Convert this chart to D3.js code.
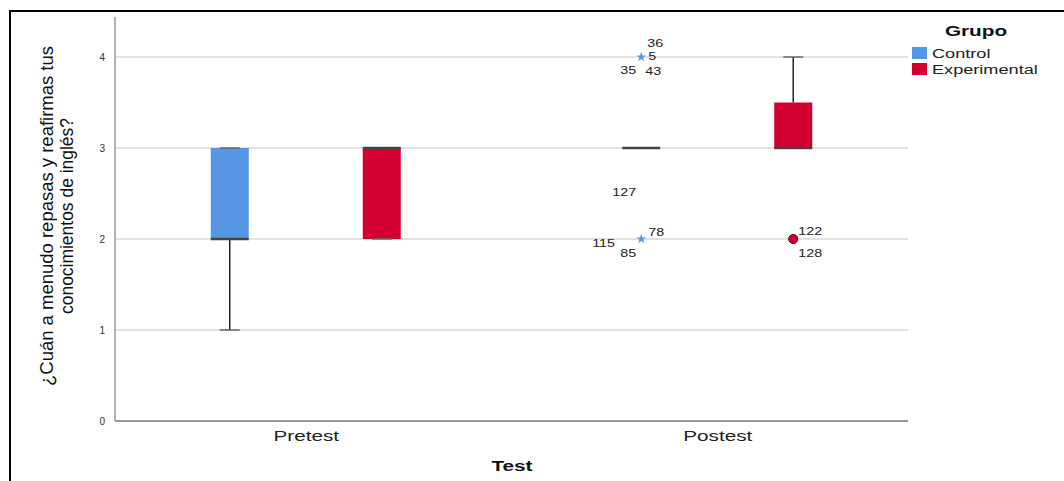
<!DOCTYPE html>
<html><head><meta charset="utf-8">
<script src="https://cdn.jsdelivr.net/npm/d3@7"></script>
<style>body{margin:0;background:#fff}svg{display:block}text{font-family:"Liberation Sans",Arial,sans-serif}</style>
</head><body>
<svg id="c" width="1064" height="481"></svg>
<script>
const tests = ["Pretest", "Postest"];
const groups = ["Control", "Experimental"];
const colors = ["#5597e4", "#d50032"];
const yTicks = [0, 1, 2, 3, 4];
// box stats per test x group: [whiskerLow, q1, median, q3, whiskerHigh]
const boxPretestControl = [1, 2, 2, 3, 3];
const boxPretestExperimental = [2, 2, 3, 3, 3];
const boxPostestControl = [3, 3, 3, 3, 3];
const boxPostestExperimental = [3, 3, 3, 3.5, 4];
// outliers
const outlierTests = ["Postest", "Postest", "Postest"];
const outlierGroups = ["Control", "Control", "Experimental"];
const outlierValues = [4, 2, 2];
const outlierShapes = ["star", "star", "circle"];
const outlierIds = [["36", "5", "35", "43"], ["127", "78", "115", "85"], ["122", "128"]];

const svg = d3.select("#c");
const x0 = 115, x1 = 908, yTop = 17, yBot = 421;
const y = d3.scaleLinear().domain([0, 4]).range([421, 57]);
const xT = d3.scalePoint().domain(tests).range([x0, x1]).padding(0.4636);
const xG = d3.scalePoint().domain(groups).range([-76, 76]);
const bw = 38, cap = 20;
const stretch = 1.48; // horizontal glyph stretch seen in reference text

function widen(sel, k) {
  sel.each(function () {
    const w = this.getComputedTextLength();
    d3.select(this).attr("textLength", w * k).attr("lengthAdjust", "spacingAndGlyphs");
  });
}

// frame
svg.append("line").attr("x1", 10).attr("x2", 1064).attr("y1", 11).attr("y2", 11).attr("stroke", "#000").attr("stroke-width", 2);
svg.append("line").attr("x1", 10).attr("x2", 10).attr("y1", 10).attr("y2", 481).attr("stroke", "#000").attr("stroke-width", 2);

// grid
svg.append("g").selectAll("line").data(yTicks.filter(d => d > 0)).join("line")
  .attr("x1", x0).attr("x2", x1).attr("y1", d => y(d)).attr("y2", d => y(d))
  .attr("stroke", "#e2e2e2").attr("stroke-width", 2);

// axes
const ya = svg.append("g").attr("transform", `translate(${x0},0)`)
  .call(d3.axisLeft(y).tickValues(yTicks).tickSize(0).tickPadding(10).tickFormat(d3.format("d")));
ya.select(".domain").remove();
ya.selectAll("text").attr("font-size", 10).attr("fill", "#333").attr("font-family", "Liberation Sans, Arial");
svg.append("line").attr("x1", x0).attr("x2", x0).attr("y1", yTop).attr("y2", yBot).attr("stroke", "#999").attr("stroke-width", 1.5);

const xa = svg.append("g").attr("transform", `translate(0,${yBot})`)
  .call(d3.axisBottom(xT).tickSize(0).tickPadding(10));
xa.select(".domain").remove();
xa.selectAll("text").attr("font-size", 14).attr("fill", "#222").attr("font-family", "Liberation Sans, Arial");
widen(xa.selectAll("text"), stretch);
svg.append("line").attr("x1", x0).attr("x2", x1).attr("y1", yBot).attr("y2", yBot).attr("stroke", "#999").attr("stroke-width", 2);

// axis titles
const xt = svg.append("text").attr("x", 512).attr("y", 471).attr("text-anchor", "middle")
  .attr("font-size", 14).attr("font-weight", "bold").attr("fill", "#111").text("Test");
widen(xt, stretch);
const yt = svg.append("text").attr("transform", "translate(53,216) rotate(-90)").attr("text-anchor", "middle")
  .attr("font-size", 18).attr("fill", "#111").attr("font-family", "Liberation Sans Narrow, Arial Narrow, Liberation Sans, Arial");
yt.append("tspan").attr("x", 0).attr("dy", 0).attr("textLength", 340).attr("lengthAdjust", "spacingAndGlyphs").text("¿Cuán a menudo repasas y reafirmas tus");
yt.append("tspan").attr("x", 0).attr("dy", 20).attr("textLength", 196).attr("lengthAdjust", "spacingAndGlyphs").text("conocimientos de inglés?");

// boxes
const boxes = [
  { t: "Pretest", g: "Control", s: boxPretestControl },
  { t: "Pretest", g: "Experimental", s: boxPretestExperimental },
  { t: "Postest", g: "Control", s: boxPostestControl },
  { t: "Postest", g: "Experimental", s: boxPostestExperimental }
];
const gb = svg.append("g");
boxes.forEach(b => {
  const cx = xT(b.t) + xG(b.g);
  const col = colors[groups.indexOf(b.g)];
  const [lo, q1, med, q3, hi] = b.s;
  if (hi > q3) {
    gb.append("line").attr("x1", cx).attr("x2", cx).attr("y1", y(q3)).attr("y2", y(hi)).attr("stroke", "#222").attr("stroke-width", 1.5);
  }
  if (lo < q1) {
    gb.append("line").attr("x1", cx).attr("x2", cx).attr("y1", y(q1)).attr("y2", y(lo)).attr("stroke", "#222").attr("stroke-width", 1.5);
  }
  if (q3 > q1) {
    gb.append("rect").attr("x", cx - bw / 2).attr("width", bw).attr("y", y(q3)).attr("height", y(q1) - y(q3)).attr("fill", col);
  }
  [lo, hi].forEach(v => {
    gb.append("line").attr("x1", cx - cap / 2).attr("x2", cx + cap / 2).attr("y1", y(v)).attr("y2", y(v))
      .attr("stroke", "#666").attr("stroke-width", 1.5);
  });
  gb.append("line").attr("x1", cx - bw / 2).attr("x2", cx + bw / 2).attr("y1", y(med)).attr("y2", y(med))
    .attr("stroke", "#444").attr("stroke-width", 2.5);
});

// outliers
const labelOffsets = [
  [[6, -14], [7, -1], [-21, 13], [4, 14]],
  [[-29, -47], [7, -7], [-49, 4], [-21, 14]],
  [[5, -8], [5, 14]]
];
const go = svg.append("g");
outlierValues.forEach((v, i) => {
  const cx = xT(outlierTests[i]) + xG(outlierGroups[i]);
  const cy = y(v);
  const col = colors[groups.indexOf(outlierGroups[i])];
  if (outlierShapes[i] === "star") {
    go.append("path").attr("d", d3.symbol(d3.symbolStar, 30)()).attr("transform", `translate(${cx},${cy})`).attr("fill", col);
  } else {
    go.append("circle").attr("cx", cx).attr("cy", cy).attr("r", 4.5).attr("fill", col).attr("stroke", "#400").attr("stroke-width", 1);
  }
  outlierIds[i].forEach((id, j) => {
    const [dx, dy] = labelOffsets[i][j];
    const t = go.append("text").attr("x", cx + dx).attr("y", cy + dy + 4).attr("font-size", 11).attr("fill", "#222").text(id);
    widen(t, 1.3);
  });
});

// legend
const lg = svg.append("g");
const gt = lg.append("text").attr("x", 976).attr("y", 36).attr("text-anchor", "middle").attr("font-size", 14)
  .attr("font-weight", "bold").attr("fill", "#111").text("Grupo");
widen(gt, stretch);
groups.forEach((g, i) => {
  lg.append("rect").attr("x", 912).attr("y", 47 + i * 16).attr("width", 15).attr("height", 12).attr("fill", colors[i]);
  const t = lg.append("text").attr("x", 932).attr("y", 58 + i * 16).attr("font-size", 12.5).attr("fill", "#222").text(g);
  widen(t, 1.45);
});
</script>
</body></html>
